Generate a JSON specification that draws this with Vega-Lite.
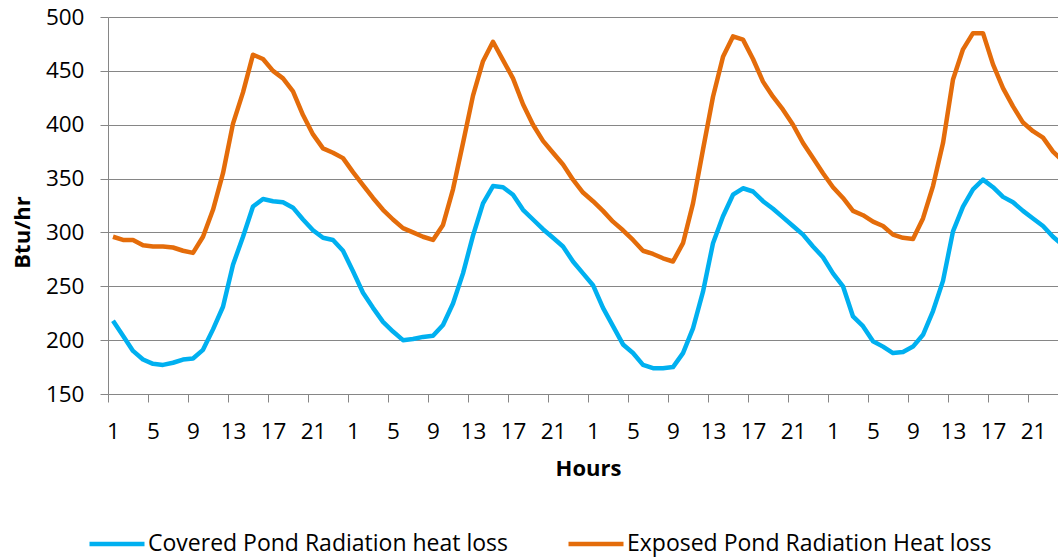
{
  "$schema": "https://vega.github.io/schema/vega-lite/v6.json",
  "usermeta": {"embedOptions": {"actions": false}},
  "autosize": {"type": "none"},
  "padding": {"left": 108, "top": 17, "right": 0, "bottom": 163},
  "width": 950,
  "height": 377,
  "background": "white",
  "config": {"view": {"stroke": null}, "font": "Open Sans"},
  "datasets": {
    "covered": [
      {"t": 1, "v": 218}, {"t": 2, "v": 204}, {"t": 3, "v": 190}, {"t": 4, "v": 182},
      {"t": 5, "v": 178}, {"t": 6, "v": 177}, {"t": 7, "v": 179}, {"t": 8, "v": 182},
      {"t": 9, "v": 183}, {"t": 10, "v": 191}, {"t": 11, "v": 210}, {"t": 12, "v": 231},
      {"t": 13, "v": 270}, {"t": 14, "v": 296}, {"t": 15, "v": 324}, {"t": 16, "v": 331},
      {"t": 17, "v": 329}, {"t": 18, "v": 328}, {"t": 19, "v": 323}, {"t": 20, "v": 312},
      {"t": 21, "v": 302}, {"t": 22, "v": 295}, {"t": 23, "v": 293}, {"t": 24, "v": 283},
      {"t": 25, "v": 264}, {"t": 26, "v": 244}, {"t": 27, "v": 230}, {"t": 28, "v": 217},
      {"t": 29, "v": 208}, {"t": 30, "v": 200}, {"t": 31, "v": 201}, {"t": 32, "v": 203},
      {"t": 33, "v": 204}, {"t": 34, "v": 214}, {"t": 35, "v": 234}, {"t": 36, "v": 262},
      {"t": 37, "v": 297}, {"t": 38, "v": 327}, {"t": 39, "v": 343}, {"t": 40, "v": 342},
      {"t": 41, "v": 335}, {"t": 42, "v": 321}, {"t": 43, "v": 312}, {"t": 44, "v": 303},
      {"t": 45, "v": 295}, {"t": 46, "v": 287}, {"t": 47, "v": 273}, {"t": 48, "v": 262},
      {"t": 49, "v": 251}, {"t": 50, "v": 230}, {"t": 51, "v": 213}, {"t": 52, "v": 196},
      {"t": 53, "v": 188}, {"t": 54, "v": 177}, {"t": 55, "v": 174}, {"t": 56, "v": 174},
      {"t": 57, "v": 175}, {"t": 58, "v": 188}, {"t": 59, "v": 211}, {"t": 60, "v": 245},
      {"t": 61, "v": 290}, {"t": 62, "v": 315}, {"t": 63, "v": 335}, {"t": 64, "v": 341},
      {"t": 65, "v": 338}, {"t": 66, "v": 329}, {"t": 67, "v": 322}, {"t": 68, "v": 314},
      {"t": 69, "v": 306}, {"t": 70, "v": 298}, {"t": 71, "v": 287}, {"t": 72, "v": 277},
      {"t": 73, "v": 262}, {"t": 74, "v": 250}, {"t": 75, "v": 222}, {"t": 76, "v": 213},
      {"t": 77, "v": 199}, {"t": 78, "v": 194}, {"t": 79, "v": 188}, {"t": 80, "v": 189},
      {"t": 81, "v": 194}, {"t": 82, "v": 205}, {"t": 83, "v": 227}, {"t": 84, "v": 255},
      {"t": 85, "v": 301}, {"t": 86, "v": 324}, {"t": 87, "v": 340}, {"t": 88, "v": 349},
      {"t": 89, "v": 342}, {"t": 90, "v": 333}, {"t": 91, "v": 328}, {"t": 92, "v": 320},
      {"t": 93, "v": 313}, {"t": 94, "v": 306}, {"t": 95, "v": 296}, {"t": 96, "v": 288}
    ],
    "exposed": [
      {"t": 1, "v": 296}, {"t": 2, "v": 293}, {"t": 3, "v": 293}, {"t": 4, "v": 288},
      {"t": 5, "v": 287}, {"t": 6, "v": 287}, {"t": 7, "v": 286}, {"t": 8, "v": 283},
      {"t": 9, "v": 281}, {"t": 10, "v": 296}, {"t": 11, "v": 321}, {"t": 12, "v": 355},
      {"t": 13, "v": 401}, {"t": 14, "v": 430}, {"t": 15, "v": 465}, {"t": 16, "v": 461},
      {"t": 17, "v": 450}, {"t": 18, "v": 443}, {"t": 19, "v": 431}, {"t": 20, "v": 409},
      {"t": 21, "v": 391}, {"t": 22, "v": 378}, {"t": 23, "v": 374}, {"t": 24, "v": 369},
      {"t": 25, "v": 356}, {"t": 26, "v": 344}, {"t": 27, "v": 332}, {"t": 28, "v": 321},
      {"t": 29, "v": 312}, {"t": 30, "v": 304}, {"t": 31, "v": 300}, {"t": 32, "v": 296},
      {"t": 33, "v": 293}, {"t": 34, "v": 307}, {"t": 35, "v": 340}, {"t": 36, "v": 383},
      {"t": 37, "v": 427}, {"t": 38, "v": 459}, {"t": 39, "v": 477}, {"t": 40, "v": 460},
      {"t": 41, "v": 443}, {"t": 42, "v": 419}, {"t": 43, "v": 400}, {"t": 44, "v": 385},
      {"t": 45, "v": 374}, {"t": 46, "v": 363}, {"t": 47, "v": 349}, {"t": 48, "v": 337},
      {"t": 49, "v": 329}, {"t": 50, "v": 320}, {"t": 51, "v": 310}, {"t": 52, "v": 302},
      {"t": 53, "v": 293}, {"t": 54, "v": 283}, {"t": 55, "v": 280}, {"t": 56, "v": 276},
      {"t": 57, "v": 273}, {"t": 58, "v": 290}, {"t": 59, "v": 327}, {"t": 60, "v": 377},
      {"t": 61, "v": 426}, {"t": 62, "v": 463}, {"t": 63, "v": 482}, {"t": 64, "v": 479},
      {"t": 65, "v": 461}, {"t": 66, "v": 440}, {"t": 67, "v": 426}, {"t": 68, "v": 414},
      {"t": 69, "v": 400}, {"t": 70, "v": 383}, {"t": 71, "v": 369}, {"t": 72, "v": 355},
      {"t": 73, "v": 342}, {"t": 74, "v": 332}, {"t": 75, "v": 320}, {"t": 76, "v": 316},
      {"t": 77, "v": 310}, {"t": 78, "v": 306}, {"t": 79, "v": 298}, {"t": 80, "v": 295},
      {"t": 81, "v": 294}, {"t": 82, "v": 313}, {"t": 83, "v": 343}, {"t": 84, "v": 383},
      {"t": 85, "v": 442}, {"t": 86, "v": 470}, {"t": 87, "v": 485}, {"t": 88, "v": 485},
      {"t": 89, "v": 456}, {"t": 90, "v": 434}, {"t": 91, "v": 417}, {"t": 92, "v": 402},
      {"t": 93, "v": 394}, {"t": 94, "v": 388}, {"t": 95, "v": 375}, {"t": 96, "v": 366}
    ]
  },
  "encoding": {
    "x": {
      "field": "t",
      "type": "quantitative",
      "scale": {"domain": [0.5, 95.5], "nice": false, "zero": false},
      "axis": {
        "values": [0.5, 4.5, 8.5, 12.5, 16.5, 20.5, 24.5, 28.5, 32.5, 36.5, 40.5, 44.5, 48.5, 52.5, 56.5, 60.5, 64.5, 68.5, 72.5, 76.5, 80.5, 84.5, 88.5, 92.5],
        "labelExpr": "(datum.value - 0.5) % 24 + 1",
        "labelOffset": 5,
        "labelFlush": false,
        "labelOverlap": false,
        "labelFont": "Open Sans",
        "labelFontSize": 22.5,
        "labelColor": "#000000",
        "labelPadding": 18,
        "tickSize": 8,
        "tickColor": "#868686",
        "domainColor": "#868686",
        "grid": false,
        "title": "Hours",
        "titleFont": "Open Sans",
        "titleFontSize": 22,
        "titleFontWeight": "bold",
        "titleColor": "#000000",
        "titleX": 480,
        "titleY": 74,
        "titleBaseline": "middle"
      }
    },
    "y": {
      "field": "v",
      "type": "quantitative",
      "scale": {"domain": [150, 500], "nice": false, "zero": false},
      "axis": {
        "values": [150, 200, 250, 300, 350, 400, 450, 500],
        "grid": true,
        "gridColor": "#868686",
        "gridOpacity": 1,
        "tickSize": 8,
        "tickColor": "#868686",
        "domainColor": "#868686",
        "labelFont": "Open Sans",
        "labelFontSize": 22.5,
        "labelColor": "#000000",
        "labelPadding": 16,
        "title": "Btu/hr",
        "titleFont": "Open Sans",
        "titleFontSize": 22,
        "titleFontWeight": "bold",
        "titleColor": "#000000",
        "titleX": -86,
        "titleY": 215,
        "titleBaseline": "middle"
      }
    }
  },
  "layer": [
    {
      "data": {"name": "covered"},
      "mark": {"type": "line", "strokeWidth": 4.5, "strokeJoin": "round", "clip": true},
      "encoding": {
        "color": {
          "datum": "Covered Pond Radiation heat loss",
          "scale": {"domain": ["Covered Pond Radiation heat loss", "Exposed Pond Radiation Heat loss"], "range": ["#00B0F0", "#E46C0A"]},
          "legend": {
            "orient": "none",
            "legendX": -21,
            "legendY": 497,
            "direction": "horizontal",
            "title": null,
            "padding": 0,
            "symbolType": "stroke",
            "symbolSize": 3025,
            "symbolStrokeWidth": 4.5,
            "labelFont": "Open Sans",
            "labelFontSize": 23,
            "labelColor": "#000000",
            "labelOffset": 1,
            "labelLimit": 600,
            "columnPadding": 50
          }
        }
      }
    },
    {
      "data": {"name": "exposed"},
      "mark": {"type": "line", "strokeWidth": 4.5, "strokeJoin": "round", "clip": true},
      "encoding": {
        "color": {"datum": "Exposed Pond Radiation Heat loss"}
      }
    }
  ]
}
